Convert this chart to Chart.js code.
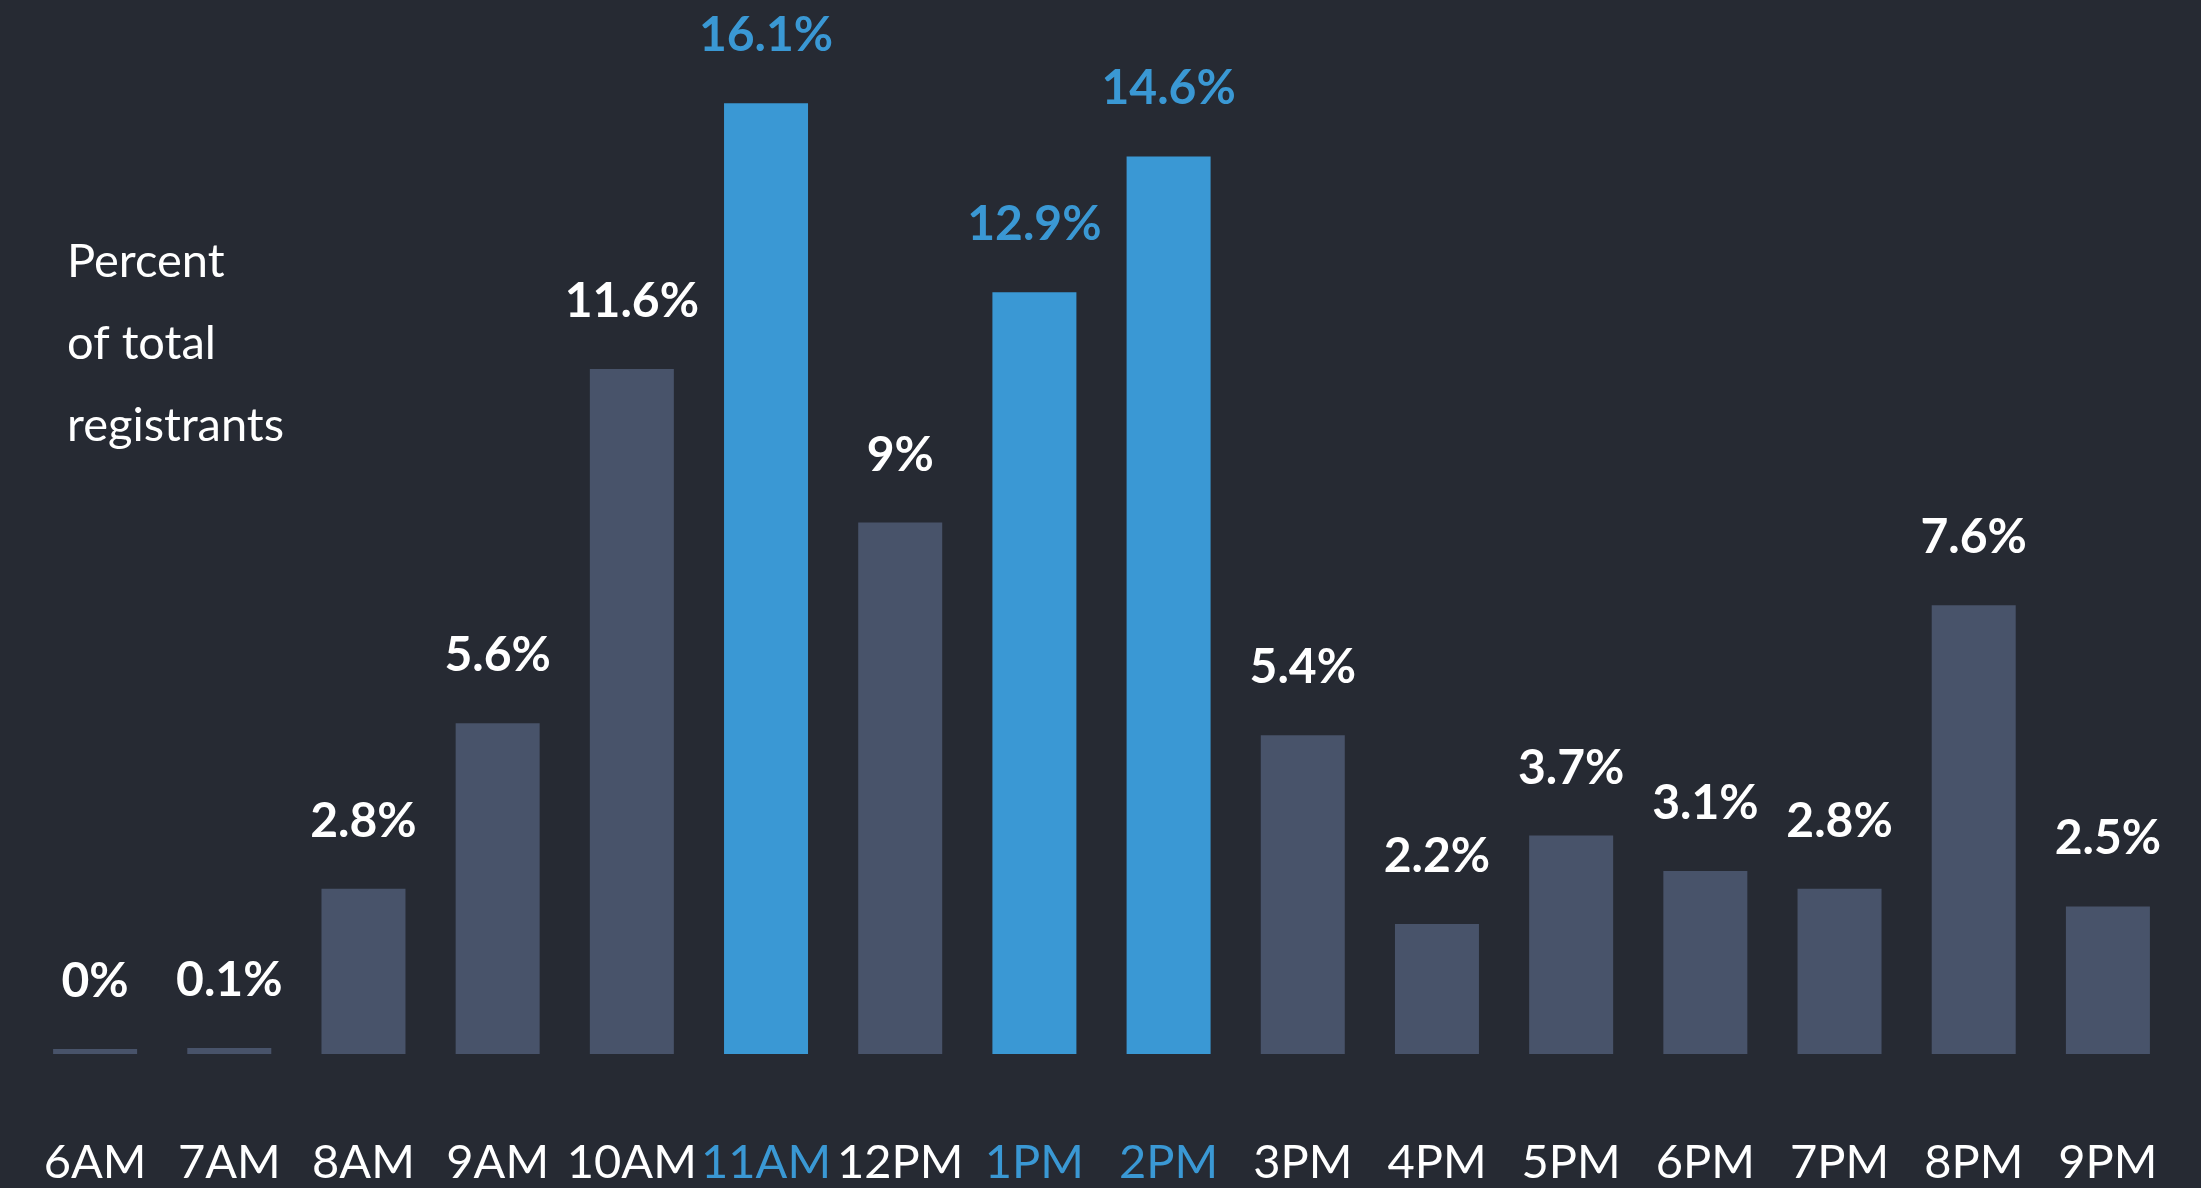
<!DOCTYPE html>
<html>
<head>
<meta charset="utf-8">
<script src="https://cdn.jsdelivr.net/npm/chart.js@4"></script>
<style>
  html, body { margin: 0; padding: 0; background: #262a33; }
  #wrap { width: 2201px; height: 1188px; }
</style>
</head>
<body>
<div id="wrap"><canvas id="Chart" width="2201" height="1188"></canvas></div>
<script>
var hours = ['6AM', '7AM', '8AM', '9AM', '10AM', '11AM', '12PM', '1PM', '2PM', '3PM', '4PM', '5PM', '6PM', '7PM', '8PM', '9PM'];
// bar heights as drawn in the picture (2PM bar is drawn taller than its label says)
var barHeights = [0, 0.1, 2.8, 5.6, 11.6, 16.1, 9, 12.9, 15.2, 5.4, 2.2, 3.7, 3.1, 2.8, 7.6, 2.5];
var valueLabels = ['0%', '0.1%', '2.8%', '5.6%', '11.6%', '16.1%', '9%', '12.9%', '14.6%', '5.4%', '2.2%', '3.7%', '3.1%', '2.8%', '7.6%', '2.5%'];
var highlighted = ['11AM', '1PM', '2PM'];
var sideTitle = ['Percent', 'of total', 'registrants'];

var bgColor = '#262a33';
var greyBar = '#48536a';
var blue = '#3a98d4';
var white = '#ffffff';

function isHot(i) {
  return highlighted.indexOf(hours[i]) !== -1;
}

var valueLabelPlugin = {
  id: 'valueLabels',
  afterDatasetsDraw: function (chart) {
    var ctx = chart.ctx;
    var meta = chart.getDatasetMeta(0);
    ctx.save();
    ctx.font = 'bold 48px Lato';
    ctx.textAlign = 'center';
    ctx.textBaseline = 'alphabetic';
    meta.data.forEach(function (bar, i) {
      ctx.fillStyle = isHot(i) ? blue : white;
      ctx.fillText(valueLabels[i], bar.x, bar.y - 52);
    });
    ctx.restore();
  }
};

var sideTitlePlugin = {
  id: 'sideTitle',
  afterDraw: function (chart) {
    var ctx = chart.ctx;
    ctx.save();
    ctx.font = '47px Lato';
    ctx.fillStyle = white;
    ctx.textAlign = 'left';
    ctx.textBaseline = 'alphabetic';
    sideTitle.forEach(function (line, i) {
      ctx.fillText(line, 67, 277 + i * 82);
    });
    ctx.restore();
  }
};

var bgPlugin = {
  id: 'bg',
  beforeDraw: function (chart) {
    var ctx = chart.ctx;
    ctx.save();
    ctx.fillStyle = bgColor;
    ctx.fillRect(0, 0, chart.width, chart.height);
    ctx.restore();
  }
};

document.addEventListener('DOMContentLoaded', function () {
  var ctx = document.getElementById('Chart').getContext('2d');

  var myChart = new Chart(ctx, {
    type: 'bar',
    data: {
      labels: hours,
      datasets: [{
        data: barHeights,
        backgroundColor: hours.map(function (h, i) { return isHot(i) ? blue : greyBar; }),
        borderWidth: 0,
        barPercentage: 0.626,
        categoryPercentage: 1,
        minBarLength: 5
      }]
    },
    options: {
      responsive: false,
      animation: false,
      layout: {
        padding: { left: 28, right: 26, top: 0, bottom: 0 }
      },
      plugins: {
        legend: { display: false },
        tooltip: { enabled: false }
      },
      scales: {
        x: {
          // invisible tick marks give the gap between bars and labels
          grid: {
            display: true,
            drawOnChartArea: false,
            drawTicks: true,
            tickLength: 83,
            color: 'rgba(0,0,0,0)'
          },
          border: { display: false },
          ticks: {
            padding: 2,
            maxRotation: 0,
            autoSkip: false,
            font: { family: 'Lato', size: 47, lineHeight: 1 },
            color: function (c) { return isHot(c.index) ? blue : white; }
          }
        },
        y: {
          display: false,
          min: 0,
          max: 17.85
        }
      }
    },
    plugins: [bgPlugin, valueLabelPlugin, sideTitlePlugin]
  });
});
</script>
</body>
</html>
